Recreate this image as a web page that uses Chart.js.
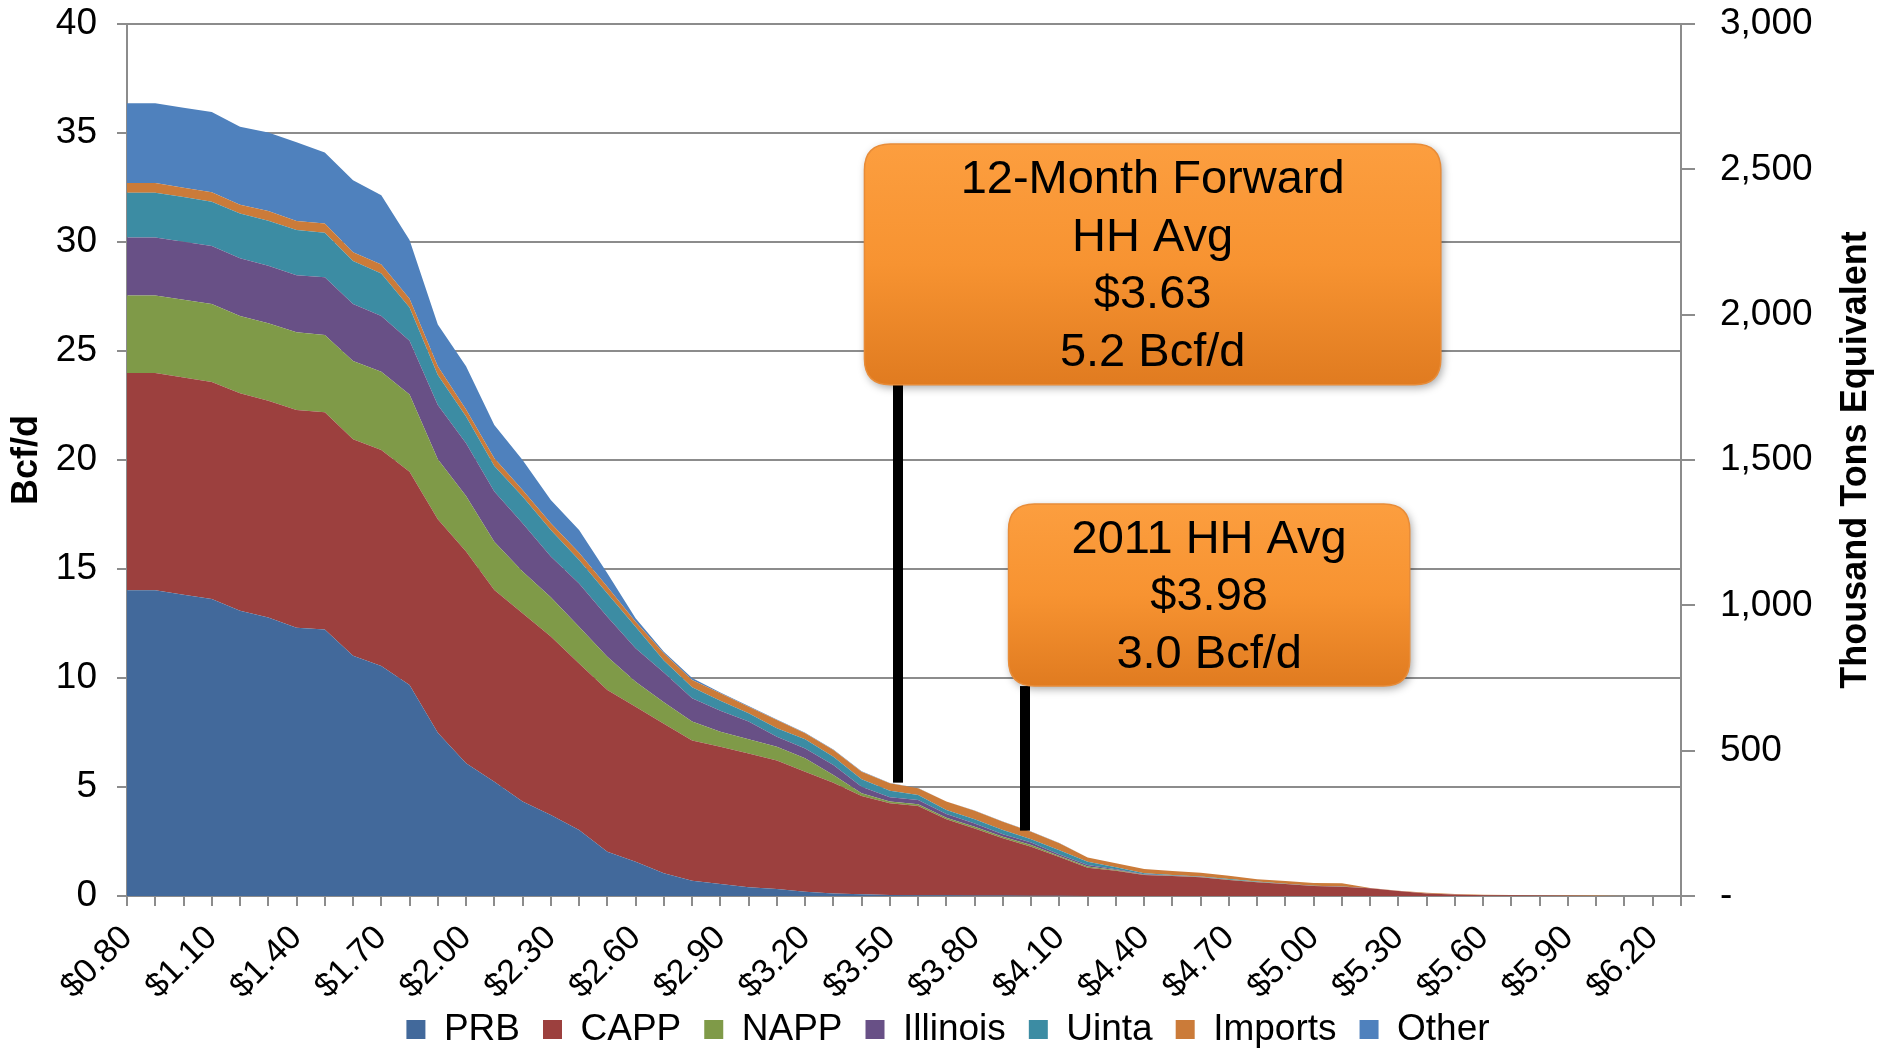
<!DOCTYPE html>
<html>
<head>
<meta charset="utf-8">
<title>Coal-to-gas switching supply by Henry Hub price</title>
<script src="https://cdn.jsdelivr.net/npm/chart.js@4.4.1/dist/chart.umd.min.js"></script>
<style>
  html, body { margin: 0; padding: 0; background: #ffffff; }
  #wrap { width: 1896px; height: 1050px; }
</style>
</head>
<body>
<div id="wrap"><canvas id="c" width="1896" height="1050"></canvas></div>
<script>
// Henry Hub price categories
const categories = [
  '$0.80','$0.90','$1.00','$1.10','$1.20','$1.30','$1.40','$1.50','$1.60','$1.70',
  '$1.80','$1.90','$2.00','$2.10','$2.20','$2.30','$2.40','$2.50','$2.60','$2.70',
  '$2.80','$2.90','$3.00','$3.10','$3.20','$3.30','$3.40','$3.50','$3.60','$3.70',
  '$3.80','$3.90','$4.00','$4.10','$4.20','$4.30','$4.40','$4.50','$4.60','$4.70',
  '$4.80','$4.90','$5.00','$5.10','$5.20','$5.30','$5.40','$5.50','$5.60','$5.70',
  '$5.80','$5.90','$6.00','$6.10','$6.20','$6.30'
];

// Switchable coal burn by basin, Bcf/d of gas equivalent
const prb = [
  14.02,14.02,13.82,13.62,13.09,12.78,12.31,12.22,11.02,10.55,
  9.68,7.49,6.09,5.24,4.33,3.72,3.03,2.03,1.57,1.04,
  0.70,0.55,0.40,0.32,0.20,0.12,0.08,0.05,0.04,0.03,
  0.02,0.02,0.01,0.01,0,0,0,0,0,0,
  0,0,0,0,0,0,0,0,0,0,
  0,0,0,0,0,0
];
const capp = [
  9.97,9.97,9.97,9.96,9.97,9.94,9.98,9.97,9.93,9.91,
  9.78,9.79,9.71,8.80,8.64,8.18,7.64,7.42,7.11,6.86,
  6.43,6.30,6.14,5.89,5.50,5.08,4.51,4.20,4.09,3.49,
  3.08,2.63,2.25,1.78,1.30,1.16,0.96,0.92,0.86,0.73,
  0.63,0.55,0.46,0.43,0.35,0.23,0.12,0.07,0.04,0.03,
  0.02,0.01,0,0,0,0
];
const napp = [
  3.56,3.56,3.56,3.58,3.55,3.55,3.57,3.54,3.59,3.59,
  3.55,2.75,2.55,2.21,1.91,1.80,1.68,1.53,1.15,0.99,
  0.87,0.69,0.65,0.64,0.62,0.35,0.12,0.09,0.08,0.07,
  0.08,0.07,0.08,0.04,0.05,0.03,0.02,0.01,0.01,0.01,
  0.01,0,0,0,0,0,0,0,0,0,
  0,0,0,0,0,0
];
const illinois = [
  2.66,2.66,2.66,2.66,2.64,2.64,2.61,2.65,2.62,2.56,
  2.46,2.49,2.42,2.30,2.22,1.87,1.99,1.83,1.53,1.36,
  1.07,0.96,0.81,0.46,0.45,0.46,0.30,0.19,0.19,0.17,
  0.15,0.11,0.11,0.07,0.07,0.04,0.02,0.01,0.01,0.01,
  0,0,0,0,0,0,0,0,0,0,
  0,0,0,0,0,0
];
const uinta = [
  2.05,2.05,2.05,2.03,2.06,2.07,2.08,2.05,1.97,1.95,
  1.53,1.38,1.22,1.17,1.22,1.22,1.07,1.07,0.99,0.55,
  0.50,0.46,0.38,0.38,0.42,0.38,0.34,0.30,0.23,0.18,
  0.19,0.20,0.15,0.20,0.15,0.09,0.04,0.02,0.01,0.03,
  0.02,0.01,0.01,0.01,0,0,0,0,0,0,
  0,0,0,0,0,0
];
const imports = [
  0.45,0.45,0.43,0.43,0.40,0.44,0.41,0.42,0.40,0.41,
  0.40,0.40,0.33,0.36,0.30,0.31,0.34,0.31,0.23,0.33,
  0.34,0.34,0.30,0.38,0.27,0.31,0.35,0.34,0.31,0.39,
  0.39,0.38,0.35,0.32,0.20,0.18,0.20,0.19,0.18,0.15,
  0.11,0.13,0.13,0.14,0.02,0.01,0.03,0.02,0.02,0.02,
  0.02,0.02,0.02,0,0,0
];
const other = [
  3.65,3.65,3.67,3.68,3.58,3.60,3.61,3.26,3.30,3.17,
  2.69,1.92,1.98,1.53,1.38,1.07,1.04,0.61,0.16,0.07,
  0.09,0.04,0.04,0.03,0.03,0.02,0.02,0.01,0.01,0.01,
  0.01,0.01,0.01,0.01,0,0,0,0,0,0,
  0,0,0,0,0,0,0,0,0,0,
  0,0,0,0,0,0
];

const seriesNames = ['PRB', 'CAPP', 'NAPP', 'Illinois', 'Uinta', 'Imports', 'Other'];
const seriesData = [prb, capp, napp, illinois, uinta, imports, other];
const seriesColors = ['#42699B', '#9C403E', '#7F9A48', '#685086', '#3C8CA3', '#CB7B39', '#4F81BD'];

// Axis ticks
const bcfTicks = { min: 0, max: 40, step: 5 };
const tonTicks = { min: 0, max: 3000, step: 500 };

// Callouts: price where the pointer sits, supply it points at, text lines
const calloutPrices = [3.53, 3.98];
const calloutBcfd = [5.2, 3.0];
const calloutText = [
  ['12-Month Forward', 'HH Avg', '$3.63', '5.2 Bcf/d'],
  ['2011 HH Avg', '$3.98', '3.0 Bcf/d']
];
// Box extents in axis units: [first category index, last category index, top Bcf/d, bottom Bcf/d]
const calloutBoxes = [
  [26.1, 46.5, 34.5, 23.45],
  [31.2, 45.4, 17.98, 9.63]
];

const FONT = "'Liberation Sans', Arial, Helvetica, sans-serif";
const GRID = '#8C8C8C';
Chart.defaults.font.family = FONT;
Chart.defaults.color = '#000000';

const priceStart = parseFloat(categories[0].slice(1));
const priceStep = parseFloat(categories[1].slice(1)) - priceStart;
const priceToIndex = p => (p - priceStart) / priceStep;

function roundRect(ctx, x, y, w, h, r) {
  ctx.beginPath();
  ctx.moveTo(x + r, y);
  ctx.lineTo(x + w - r, y);
  ctx.quadraticCurveTo(x + w, y, x + w, y + r);
  ctx.lineTo(x + w, y + h - r);
  ctx.quadraticCurveTo(x + w, y + h, x + w - r, y + h);
  ctx.lineTo(x + r, y + h);
  ctx.quadraticCurveTo(x, y + h, x, y + h - r);
  ctx.lineTo(x, y + r);
  ctx.quadraticCurveTo(x, y, x + r, y);
  ctx.closePath();
}

const annotations = {
  id: 'annotations',
  afterDatasetsDraw(chart) {
    const { ctx } = chart;
    const xs = chart.scales.x, ys = chart.scales.y;
    ctx.save();
    // pointer lines from each box down to the supply curve
    calloutPrices.forEach((p, k) => {
      const px = xs.getPixelForValue(priceToIndex(p));
      const top = ys.getPixelForValue(calloutBoxes[k][3]);
      const bot = ys.getPixelForValue(calloutBcfd[k]);
      ctx.fillStyle = '#000000';
      ctx.fillRect(Math.round(px - 5), top, 10, bot - top);
    });
    // rounded orange boxes
    calloutBoxes.forEach((b, k) => {
      const x0 = xs.getPixelForValue(b[0]);
      const x1 = xs.getPixelForValue(b[1]);
      const y0 = ys.getPixelForValue(b[2]);
      const y1 = ys.getPixelForValue(b[3]);
      const w = x1 - x0, h = y1 - y0;
      const g = ctx.createLinearGradient(0, y0, 0, y1);
      g.addColorStop(0, '#FC9E3F');
      g.addColorStop(0.5, '#F79331');
      g.addColorStop(1, '#E07B20');
      ctx.save();
      ctx.shadowColor = 'rgba(0,0,0,0.35)';
      ctx.shadowBlur = 8;
      ctx.shadowOffsetX = 2;
      ctx.shadowOffsetY = 3;
      roundRect(ctx, x0, y0, w, h, 26);
      ctx.fillStyle = g;
      ctx.fill();
      ctx.restore();
      roundRect(ctx, x0, y0, w, h, 26);
      ctx.strokeStyle = '#E88C38';
      ctx.lineWidth = 1.5;
      ctx.stroke();
      const lines = calloutText[k];
      const lh = 57.5;
      const cx = (x0 + x1) / 2;
      const cy = (y0 + y1) / 2;
      ctx.fillStyle = '#000000';
      ctx.font = '47px ' + FONT;
      ctx.textAlign = 'center';
      ctx.textBaseline = 'middle';
      lines.forEach((t, j) => {
        ctx.fillText(t, cx, cy + (j - (lines.length - 1) / 2) * lh + 2);
      });
    });
    ctx.restore();
  },
  afterDraw(chart) {
    // right axis title, reading bottom to top
    const { ctx, chartArea } = chart;
    ctx.save();
    ctx.translate(1856, (chartArea.top + chartArea.bottom) / 2);
    ctx.rotate(-Math.PI / 2);
    ctx.font = 'bold 36px ' + FONT;
    ctx.fillStyle = '#000000';
    ctx.textAlign = 'center';
    ctx.textBaseline = 'middle';
    ctx.fillText('Thousand Tons Equivalent', 0, 0);
    ctx.restore();
  }
};

const datasets = seriesNames.map((name, k) => ({
  label: name,
  data: seriesData[k],
  backgroundColor: seriesColors[k],
  borderColor: seriesColors[k],
  borderWidth: 0,
  pointRadius: 0,
  pointHoverRadius: 0,
  tension: 0,
  fill: k === 0 ? 'origin' : '-1'
}));

// vertical axes: fixed width, no extra top/bottom room for end labels
function fixVertical(width) {
  return scale => {
    scale.width = width;
    scale.paddingTop = 0;
    scale.paddingBottom = 0;
  };
}

new Chart(document.getElementById('c'), {
  type: 'line',
  data: { labels: categories, datasets },
  plugins: [annotations],
  options: {
    responsive: false,
    devicePixelRatio: 1,
    animation: false,
    events: [],
    layout: { padding: { top: 24, left: 0, right: 0, bottom: 0 } },
    plugins: {
      legend: {
        position: 'bottom',
        maxHeight: 62,
        labels: {
          boxWidth: 19,
          boxHeight: 19,
          padding: 23,
          color: '#000000',
          font: { size: 37 }
        }
      },
      tooltip: { enabled: false }
    },
    scales: {
      x: {
        type: 'category',
        offset: false,
        grid: { display: true, drawOnChartArea: false, drawTicks: true, tickLength: 10, color: GRID, lineWidth: 2 },
        border: { display: true, color: GRID, width: 2 },
        ticks: {
          autoSkip: false,
          maxRotation: 45,
          minRotation: 45,
          padding: 12,
          color: '#000000',
          font: { size: 34 },
          callback(value, index) { return index % 3 === 0 ? this.getLabelForValue(value) : ''; }
        },
        afterFit(scale) {
          scale.height = 92;
          // slanted price labels run a little past the axis box; keep them whole
          scale._computeLabelArea = () => undefined;
        }
      },
      y: {
        position: 'left',
        stacked: true,
        min: bcfTicks.min,
        max: bcfTicks.max,
        grid: { color: GRID, lineWidth: 2, tickLength: 10, drawTicks: true },
        border: { display: true, color: GRID, width: 2 },
        ticks: { stepSize: bcfTicks.step, padding: 20, color: '#000000', font: { size: 37 } },
        title: { display: true, text: 'Bcf/d', color: '#000000', font: { size: 36, weight: 'bold' }, padding: { top: 5, bottom: 0 } },
        afterFit: fixVertical(127)
      },
      y2: {
        position: 'right',
        min: tonTicks.min,
        max: tonTicks.max,
        grid: { drawOnChartArea: false, drawTicks: true, tickLength: 14, color: GRID, lineWidth: 2 },
        border: { display: true, color: GRID, width: 2 },
        ticks: {
          stepSize: tonTicks.step,
          padding: 25,
          color: '#000000',
          font: { size: 37 },
          callback(v) { return v === 0 ? '-' : v.toLocaleString('en-US'); }
        },
        afterFit: fixVertical(215)
      }
    }
  }
});
</script>
</body>
</html>
